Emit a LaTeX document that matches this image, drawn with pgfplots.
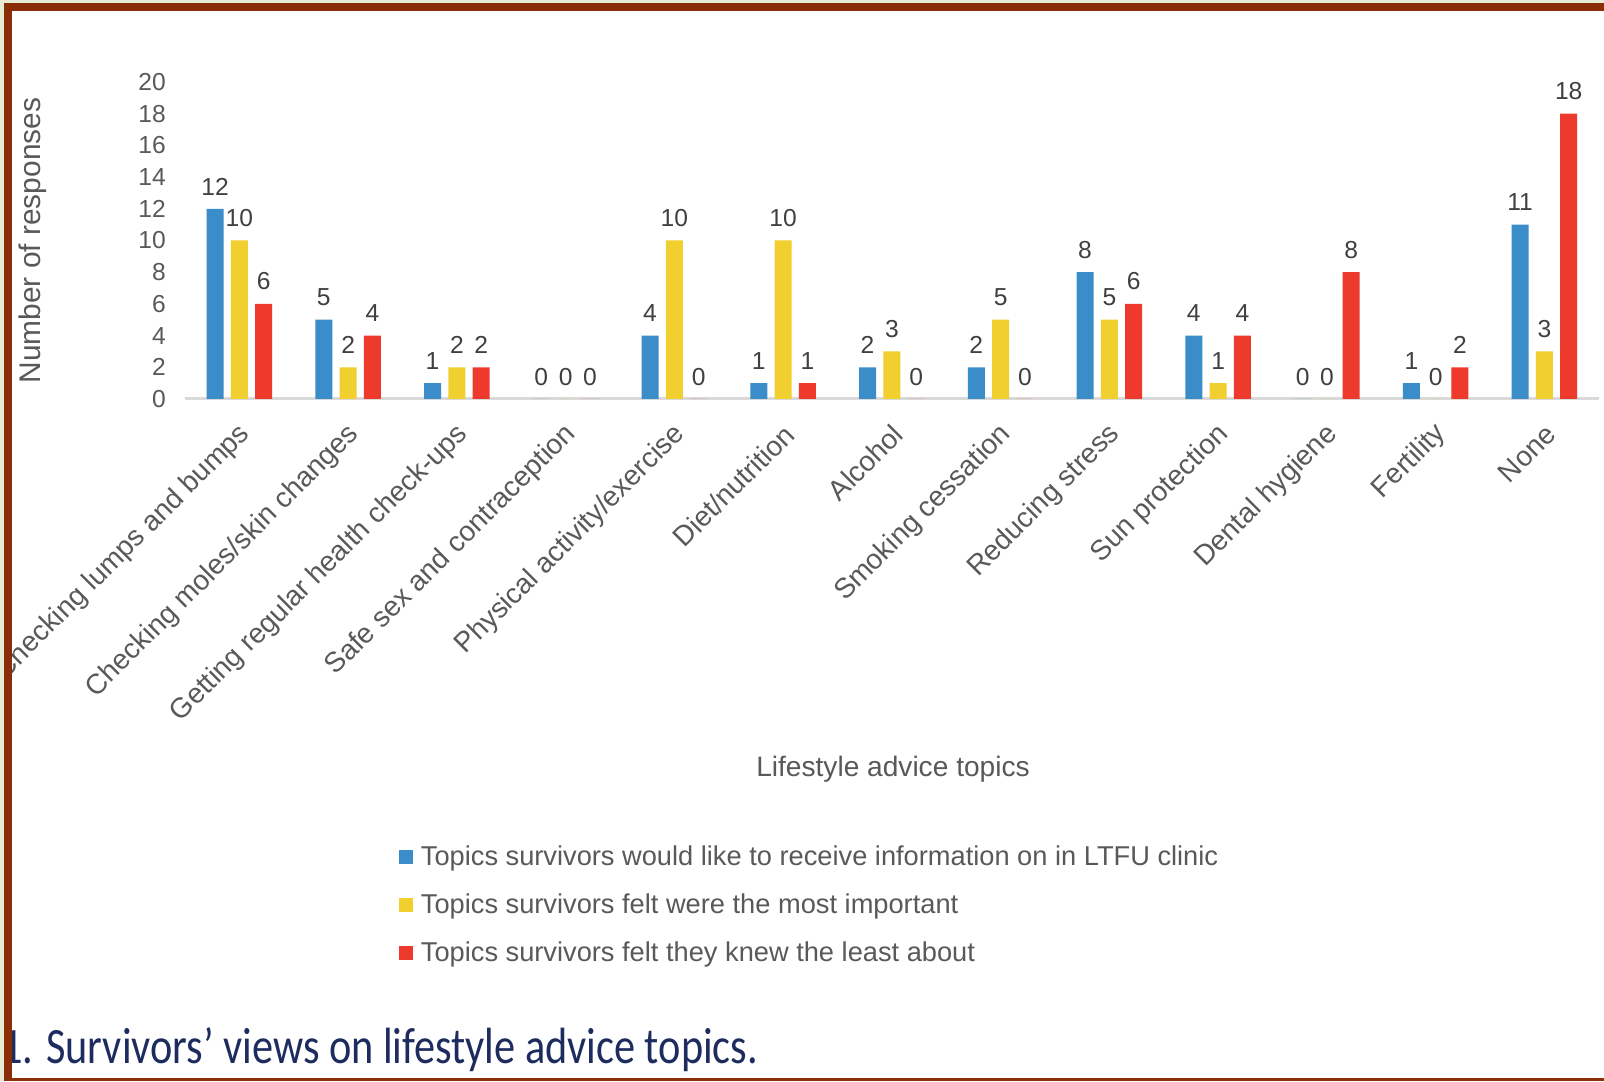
\documentclass[border=0pt]{standalone}
\usepackage{fontspec}
\setmainfont{Liberation Sans}
\newfontfamily\capfont[FakeStretch=0.83]{Carlito}
\usepackage{pgfplots}
\pgfplotsset{compat=1.18}
\definecolor{barblue}{HTML}{3A8DC8}
\definecolor{baryellow}{HTML}{F1CF2F}
\definecolor{barred}{HTML}{EE3A2D}
\definecolor{framebrown}{HTML}{8A2E08}
\definecolor{margin}{HTML}{E8ECD4}
\definecolor{txtgray}{HTML}{595959}
\definecolor{lblgray}{HTML}{404040}
\definecolor{capblue}{HTML}{1E2B5E}
\pgfplotsset{lgsq/.style={legend image code/.code={\fill[##1] (0cm,-0.14cm) rectangle (0.28cm,0.14cm); \path (0.36cm,0cm);}}}

\begin{document}
\begin{tikzpicture}
\useasboundingbox (0,0) rectangle (32.08,21.62);
\fill[margin] (0,0) rectangle (32.08,21.62);
\fill[white] (0.08,0) rectangle (32.08,21.56);
\begin{scope}
\clip (0.08,0) rectangle (32.08,21.56);
\begin{axis}[
    at={(3.70cm,13.64cm)}, anchor=south west,
    width=28.275cm, height=6.34cm, scale only axis,
    xmin=-0.5, xmax=12.5, ymin=0, ymax=20,
    ybar=0.146cm, bar width=0.34cm,
    xtick={0,...,12},
    xticklabels={Checking lumps and bumps, Checking moles/skin changes, Getting regular health check-ups, Safe sex and contraception, Physical activity/exercise, Diet/nutrition, Alcohol, Smoking cessation, Reducing stress, Sun protection, Dental hygiene, Fertility, None},
    ytick={0,2,...,20},
    axis x line=bottom, axis y line=left,
    axis line style={-},
    y axis line style={draw=none},
    x axis line style={draw=black!15, line width=0.06cm},
    major tick length=0pt,
    /pgf/number format/assume math mode=true,
    yticklabel style={font=\fontsize{14}{16}\selectfont, text=txtgray, xshift=-0.26cm},
    xticklabel style={xshift=0.21cm, yshift=-0.53cm, rotate=45, anchor=east, font=\fontsize{16}{18}\selectfont, text=txtgray},
    ylabel={Number of responses},
    ylabel style={at={(axis description cs:-0.108,0.5)}, anchor=center, font=\fontsize{17}{19}\selectfont, text=txtgray},
    xlabel={Lifestyle advice topics},
    xlabel style={at={(axis description cs:0.5008,-1.168)}, anchor=center, font=\fontsize{16}{18}\selectfont, text=txtgray},
    nodes near coords,
    nodes near coords style={font=\fontsize{14}{16}\selectfont, text=lblgray, yshift=0.15cm},
    legend style={at={(axis description cs:0.1514,-1.396)}, anchor=north west, draw=none, fill=none,
        font=\fontsize{15.5}{17}\selectfont, text=txtgray, row sep=0.38cm, inner sep=0pt},
    legend cell align=left,
    clip=false,
]
\addplot[fill=barblue, draw=none, lgsq] coordinates {
    (0,12) (1,5) (2,1) (3,0) (4,4) (5,1) (6,2) (7,2) (8,8) (9,4) (10,0) (11,1) (12,11)};
\addplot[fill=baryellow, draw=none, lgsq] coordinates {
    (0,10) (1,2) (2,2) (3,0) (4,10) (5,10) (6,3) (7,5) (8,5) (9,1) (10,0) (11,0) (12,3)};
\addplot[fill=barred, draw=none, lgsq] coordinates {
    (0,6) (1,4) (2,2) (3,0) (4,0) (5,1) (6,0) (7,0) (8,6) (9,4) (10,8) (11,2) (12,18)};
\legend{Topics survivors would like to receive information on in LTFU clinic,
        Topics survivors felt were the most important,
        Topics survivors felt they knew the least about}
\end{axis}
\node[anchor=base west, text=capblue, font=\capfont\fontsize{29}{32}\selectfont, inner sep=0pt]
    at (0.02,0.36) {1. Survivors’ views on lifestyle advice topics.};
\end{scope}
\fill[framebrown] (0.08,0) rectangle (0.24,21.56);
\fill[framebrown] (0.08,21.40) rectangle (32.08,21.56);
\fill[framebrown] (0.08,0) rectangle (32.08,0.07);
\end{tikzpicture}
\end{document}
